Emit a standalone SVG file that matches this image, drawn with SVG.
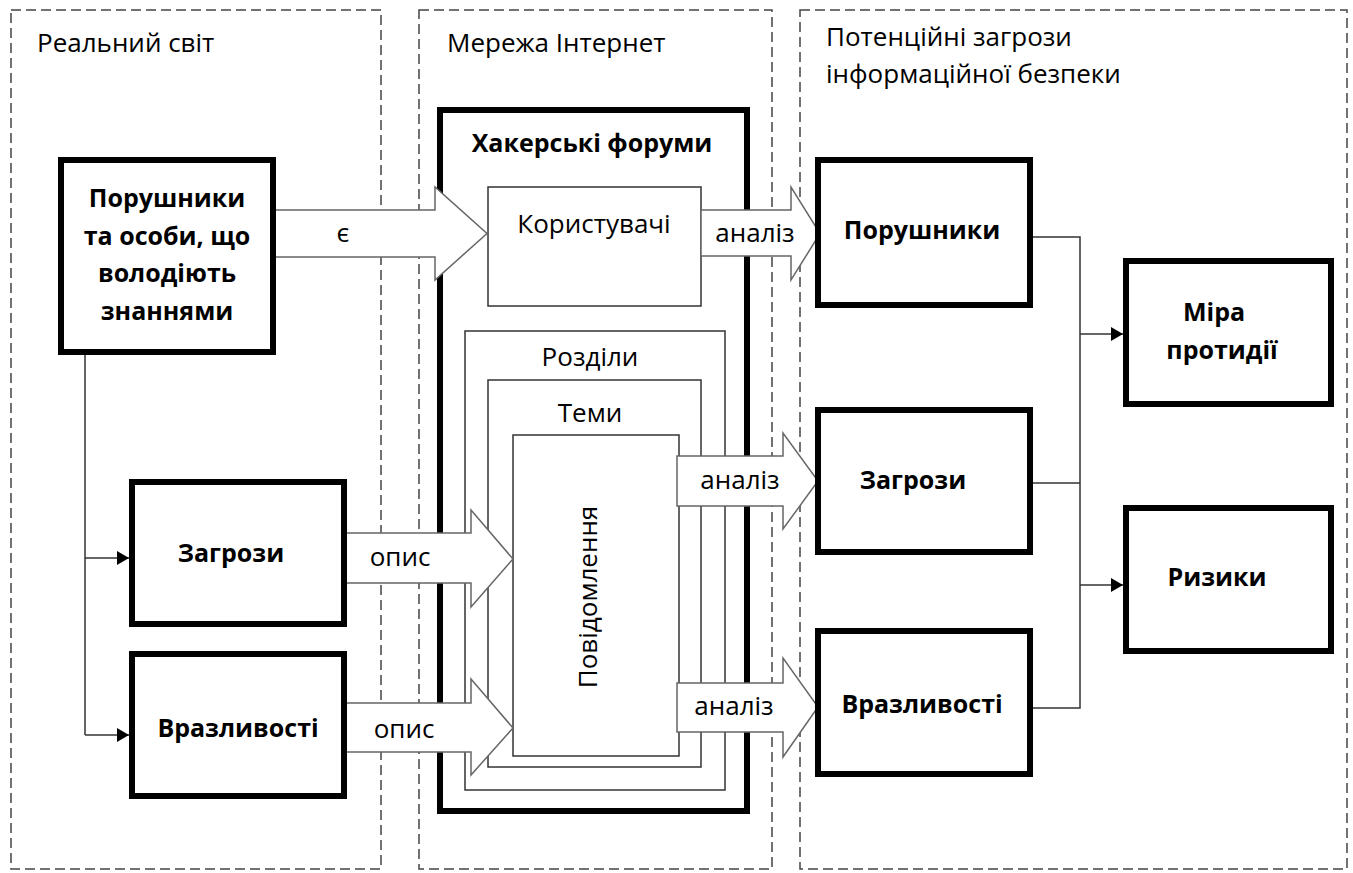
<svg xmlns="http://www.w3.org/2000/svg" width="1353" height="873" viewBox="0 0 1353 873">
  <defs>
    <marker id="tri" viewBox="0 0 12 14" refX="12" refY="7" markerWidth="12" markerHeight="14" markerUnits="userSpaceOnUse" orient="auto">
      <path d="M0,0 L12,7 L0,14 Z" fill="#000"/>
    </marker>
  </defs>
  <style>
    .panel { fill: none; stroke: #444; stroke-width: 1.5; stroke-dasharray: 10 5; }
    .thick { fill: #fff; stroke: #000; stroke-width: 6; }
    .thin { fill: #fff; stroke: #333; stroke-width: 1.5; }
    .block { fill: #fff; stroke: #666; stroke-width: 1.5; stroke-linejoin: miter; }
    .link { fill: none; stroke: #333; stroke-width: 1.5; }
    .t { font-family: "Open Sans", "Noto Sans", sans-serif; font-size: 26px; fill: #000; }
    .b { font-family: "Open Sans", "Noto Sans", sans-serif; font-size: 25px; font-weight: bold; fill: #000; }
    .c { text-anchor: middle; }
  </style>
  <rect width="1353" height="873" fill="#fff"/>

  <!-- dashed areas -->
  <g id="areas">
    <rect class="panel" x="11" y="10" width="370" height="859"/>
    <rect class="panel" x="419" y="10" width="353" height="859"/>
    <rect class="panel" x="800" y="10" width="547" height="859"/>
    <text class="t" x="37" y="52">Реальний світ</text>
    <text class="t" x="447" y="52">Мережа Інтернет</text>
    <text class="t" x="826" y="46">Потенційні загрози</text>
    <text class="t" x="826" y="83">інформаційної безпеки</text>
  </g>

  <!-- hacker forums and nested structure -->
  <g id="forums">
    <rect class="thick" x="440" y="110" width="307" height="701"/>
    <text class="b c" x="592" y="152">Хакерські форуми</text>
  </g>
  <g id="users">
    <rect class="thin" x="488" y="187" width="213" height="119"/>
    <text class="t c" x="594" y="233">Користувачі</text>
  </g>
  <g id="sections">
    <rect class="thin" x="465" y="331" width="260" height="459"/>
    <text class="t c" x="590" y="366">Розділи</text>
  </g>
  <g id="topics">
    <rect class="thin" x="488" y="380" width="213" height="387"/>
    <text class="t c" x="590" y="422">Теми</text>
  </g>
  <g id="messages">
    <rect class="thin" x="513" y="435" width="166" height="321"/>
    <text class="t c" transform="translate(597 597) rotate(-90)">Повідомлення</text>
  </g>

  <!-- connectors -->
  <g id="connectors">
    <!-- block arrows -->
    <polygon class="block" points="272,210 435,210 435,187 487,233.5 435,280 435,257 272,257"/>
    <polygon class="block" points="701,210 791,210 791,187 820,233.5 791,280 791,256 701,256"/>
    <polygon class="block" points="343,533 471,533 471,510 513,559 471,607 471,583 343,583"/>
    <polygon class="block" points="343,703 471,703 471,679 513,728 471,775 471,752 343,752"/>
    <polygon class="block" points="677,456 783,456 783,433 818,481 783,529 783,506 677,506"/>
    <polygon class="block" points="677,683 783,683 783,658 818,707 783,757 783,732 677,732"/>
    <text class="t c" x="343" y="242">є</text>
    <text class="t c" x="755" y="242">аналіз</text>
    <text class="t c" x="740" y="489">аналіз</text>
    <text class="t c" x="734" y="715">аналіз</text>
    <text class="t c" x="400" y="566">опис</text>
    <text class="t c" x="404" y="738">опис</text>
    <!-- thin lines on the left -->
    <path class="link" d="M85,355 V735"/>
    <path class="link" d="M85,558 H129" marker-end="url(#tri)"/>
    <path class="link" d="M85,735 H129" marker-end="url(#tri)"/>
    <!-- thin lines on the right -->
    <path class="link" d="M1033,237 H1080 V708 H1033"/>
    <path class="link" d="M1033,483 H1080"/>
    <path class="link" d="M1080,334 H1123" marker-end="url(#tri)"/>
    <path class="link" d="M1080,585 H1123" marker-end="url(#tri)"/>
  </g>

  <!-- real world -->
  <g id="intruders-real">
    <rect class="thick" x="61" y="160" width="212" height="192"/>
    <text class="b c" x="167" y="207">Порушники</text>
    <text class="b c" x="167" y="245">та особи, що</text>
    <text class="b c" x="167" y="282">володіють</text>
    <text class="b c" x="167" y="320">знаннями</text>
  </g>
  <g id="threats-real">
    <rect class="thick" x="132" y="482" width="212" height="142"/>
    <text class="b c" x="231" y="562">Загрози</text>
  </g>
  <g id="vulns-real">
    <rect class="thick" x="132" y="654" width="212" height="142"/>
    <text class="b c" x="238" y="737">Вразливості</text>
  </g>

  <!-- potential threats -->
  <g id="intruders">
    <rect class="thick" x="818" y="160" width="212" height="145"/>
    <text class="b c" x="922" y="239">Порушники</text>
  </g>
  <g id="threats">
    <rect class="thick" x="818" y="410" width="212" height="142"/>
    <text class="b c" x="913" y="489">Загрози</text>
  </g>
  <g id="vulns">
    <rect class="thick" x="818" y="631" width="212" height="143"/>
    <text class="b c" x="922" y="713">Вразливості</text>
  </g>
  <g id="countermeasure">
    <rect class="thick" x="1126" y="261" width="205" height="143"/>
    <text class="b c" x="1214" y="321">Міра</text>
    <text class="b c" x="1222" y="359">протидії</text>
  </g>
  <g id="risks">
    <rect class="thick" x="1126" y="508" width="205" height="143"/>
    <text class="b c" x="1217" y="586">Ризики</text>
  </g>
</svg>
